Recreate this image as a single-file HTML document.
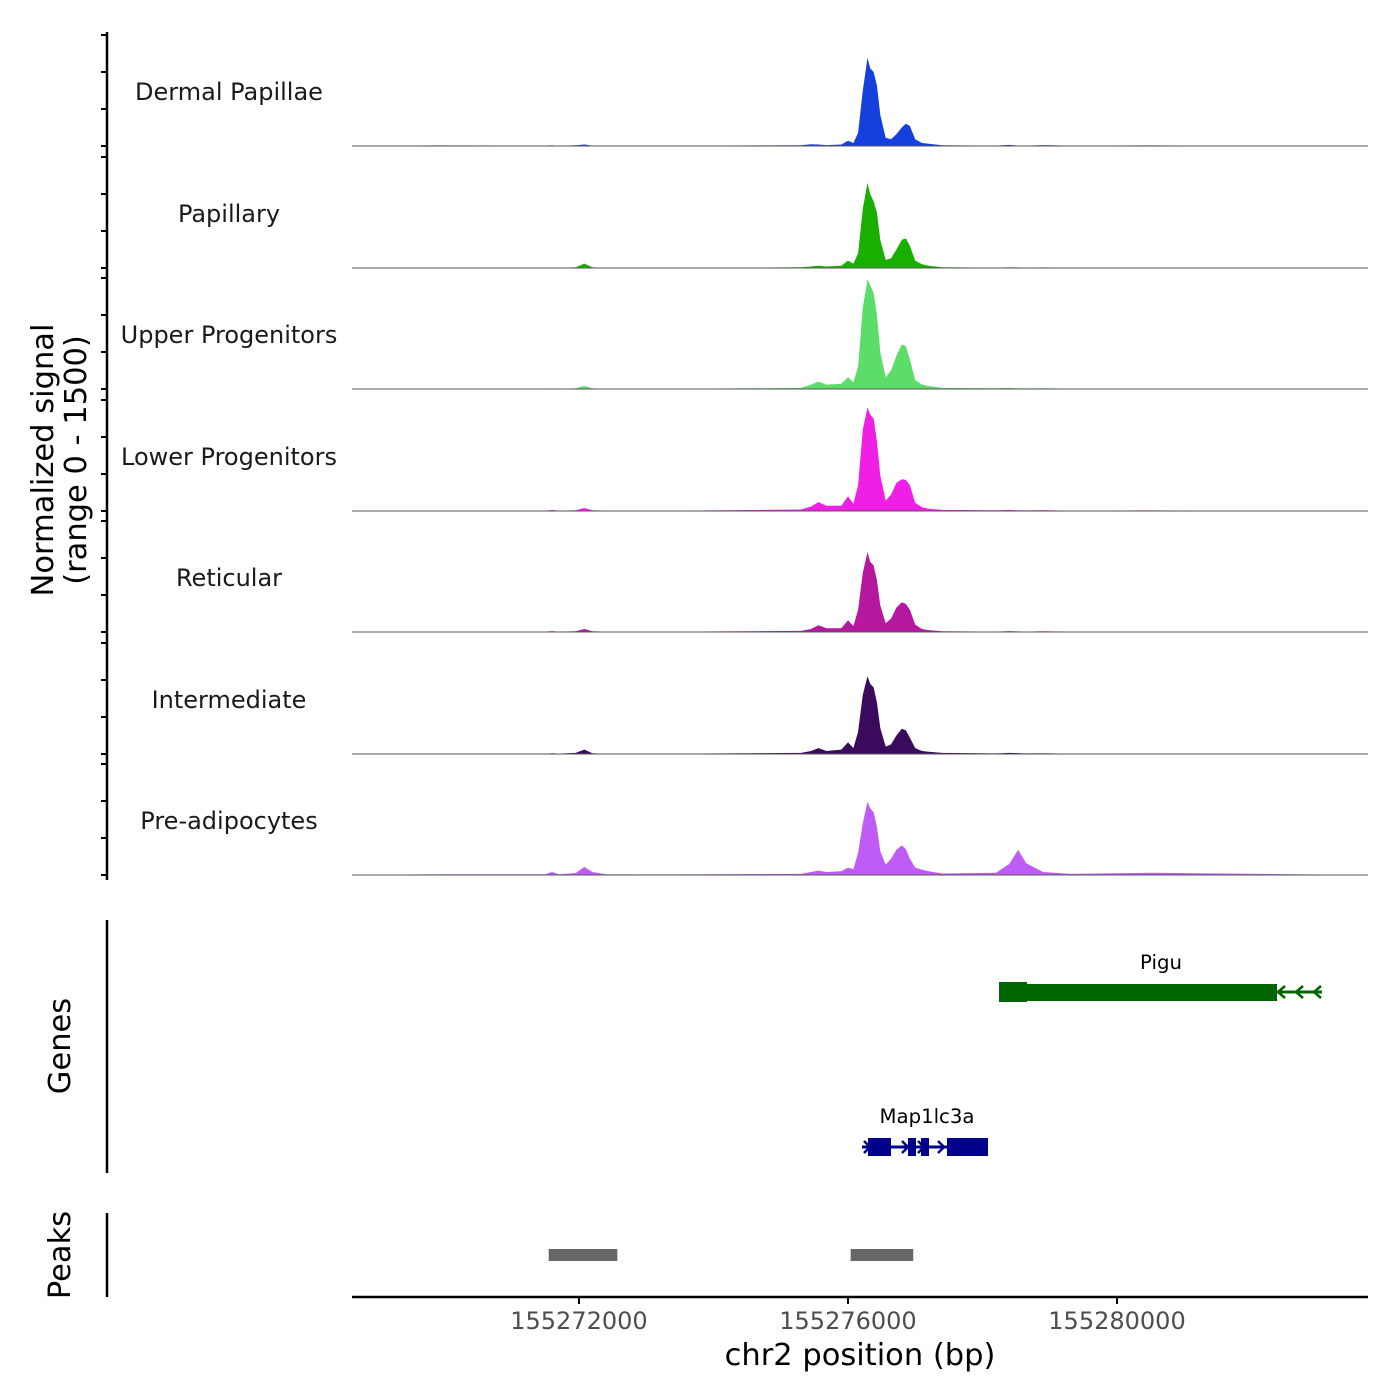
<!DOCTYPE html>
<html><head><meta charset="utf-8"><style>
body{margin:0;background:#fff}
svg{display:block;font-family:"DejaVu Sans","Liberation Sans",sans-serif}
</style></head><body>
<svg id="c" width="1400" height="1400" viewBox="0 0 1400 1400" xmlns="http://www.w3.org/2000/svg"></svg>
<script>
const positions=[155268625,155269900,155271500,155271600,155271700,155271950,155272080,155272200,155272400,155273500,155275300,155275450,155275560,155275680,155275900,155276000,155276080,155276150,155276220,155276290,155276330,155276380,155276430,155276480,155276560,155276640,155276720,155276800,155276860,155276920,155277000,155277100,155277200,155277400,155278200,155278400,155278530,155278650,155278900,155279300,155280500,155283732];
const trackNames=["Dermal Papillae","Papillary","Upper Progenitors","Lower Progenitors","Reticular","Intermediate","Pre-adipocytes"];
const trackColors=["#1640dc","#1aae00","#5cdc69","#f01fe6","#b5179e","#3a0a5c","#c05cf6"];
const dermal=[0,8,5,10,2,10,20,5,0,5,10,25,20,12,20,70,40,180,750,1190,1050,1000,820,420,110,90,160,250,300,270,90,40,30,10,5,15,5,5,12,5,8,0];
const papillary=[0,3,2,8,2,10,60,10,0,3,10,20,30,20,30,100,60,200,800,1150,1000,900,750,380,110,130,250,380,400,300,100,50,30,10,5,10,8,5,8,5,5,0];
const upperProg=[0,3,2,8,2,10,40,10,0,3,15,60,100,60,70,160,90,300,1100,1480,1400,1300,1000,500,160,250,450,600,580,400,120,60,40,15,10,15,10,8,10,5,5,0];
const lowerProg=[0,5,5,15,5,10,40,10,5,5,20,60,120,70,70,200,100,350,1100,1400,1300,1250,950,480,140,220,380,430,420,350,110,50,30,15,10,15,10,8,12,5,8,0];
const reticular=[0,5,5,12,5,10,40,10,5,5,15,40,90,50,50,160,80,300,800,1080,950,900,700,360,120,180,330,400,380,300,100,40,25,10,5,12,8,5,10,5,5,0];
const intermediate=[0,5,3,10,5,15,60,10,3,5,15,40,80,40,60,160,80,300,800,1050,950,900,700,350,100,130,250,340,320,220,80,40,30,15,8,15,12,8,10,5,5,0];
const preAdip=[0,10,10,40,10,25,110,40,10,8,15,40,60,40,50,100,80,300,700,990,900,850,650,320,140,220,340,400,350,220,100,70,50,20,30,150,340,160,40,15,30,0];
const trackValues=[dermal,papillary,upperProg,lowerProg,reticular,intermediate,preAdip];
const xTicks=[155272000,155276000,155280000];
const yTicks=[0,500,1000,1500];
const peakStarts=[155271550,155276040];
const peakEnds=[155272570,155276970];

const svg=document.getElementById('c');
const NS='http://www.w3.org/2000/svg';
function el(t,a,p){const e=document.createElementNS(NS,t);for(const k in a)e.setAttribute(k,a[k]);(p||svg).appendChild(e);return e;}
const X0=352,X1=1368,B0=155268625,B1=155283732;
const xs=b=>X0+(b-B0)/(B1-B0)*(X1-X0);
const ys=(v,base)=>base-v/1500*111;
const baselines=[146,268,389,511,632,754,875];

let ax=el('line',{x1:107,y1:32,x2:107,y2:880,stroke:'#000','stroke-width':2.5});


trackNames.forEach((name,i)=>{
  const base=baselines[i];
  const g=el('g',{});
  
  
  yTicks.forEach(t=>{
    const tk=el('line',{x1:101,x2:107,y1:ys(t,base),y2:ys(t,base),stroke:'#000','stroke-width':2},g);
    
    
  });
  const vals=trackValues[i];
  let d='M'+xs(positions[0])+','+base;
  positions.forEach((p,j)=>{d+=' L'+xs(p).toFixed(1)+','+ys(vals[j],base).toFixed(1);});
  d+=' L'+xs(positions[positions.length-1])+','+base+' Z';
  const a=el('path',{d:d,fill:trackColors[i]},g);
  
  
  const bl=el('line',{x1:X0,x2:X1,y1:base,y2:base,stroke:'#555','stroke-width':1},g);
  
  
  const tx=el('text',{x:229,y:base-46,'text-anchor':'middle','font-size':24,fill:'#1a1a1a'},g);
  tx.textContent=name;
  
  
});
const yt=el('text',{transform:'translate(53,460) rotate(-90)','text-anchor':'middle','font-size':30.5,fill:'#000'});
yt.textContent='Normalized signal';


const yt2=el('text',{transform:'translate(86,460) rotate(-90)','text-anchor':'middle','font-size':30.5,fill:'#000'});
yt2.textContent='(range 0 - 1500)';



const ga=el('line',{x1:107,y1:920,x2:107,y2:1173,stroke:'#000','stroke-width':2.5});


const gt=el('text',{transform:'translate(70,1046) rotate(-90)','text-anchor':'middle','font-size':30.5,fill:'#000'});
gt.textContent='Genes';


const pg=el('g',{});


el('line',{x1:999,x2:1322,y1:992,y2:992,stroke:'#006400','stroke-width':3},pg);
el('rect',{x:999,y:984,width:278,height:17,fill:'#006400'},pg);
el('rect',{x:999,y:982,width:28,height:20,fill:'#006400'},pg);
[1285,1303,1321].forEach(x=>el('path',{d:`M${x},986 L${x-7},992 L${x},998`,stroke:'#006400','stroke-width':2.5,fill:'none'},pg));
const pl=el('text',{x:1161,y:969,'text-anchor':'middle','font-size':19.7,fill:'#000'},pg);pl.textContent='Pigu';
const mg=el('g',{});


el('line',{x1:862,x2:988,y1:1147,y2:1147,stroke:'#00008b','stroke-width':3},mg);
[[868,891],[908,916],[921,929],[947,988]].forEach(e=>el('rect',{x:e[0],y:1138,width:e[1]-e[0],height:18,fill:'#00008b'},mg));
[864,902,918,938].forEach(x=>el('path',{d:`M${x},1141 L${x+6},1147 L${x},1153`,stroke:'#00008b','stroke-width':2.5,fill:'none'},mg));
const ml=el('text',{x:927,y:1123,'text-anchor':'middle','font-size':19.7,fill:'#000'},mg);ml.textContent='Map1lc3a';

const pa=el('line',{x1:107,y1:1213,x2:107,y2:1297,stroke:'#000','stroke-width':2.5});


const pt=el('text',{transform:'translate(70,1255) rotate(-90)','text-anchor':'middle','font-size':30.5,fill:'#000'});
pt.textContent='Peaks';


peakStarts.forEach((s,i)=>{
  const r=el('rect',{x:xs(s),y:1249,width:xs(peakEnds[i])-xs(s),height:12,fill:'#666'});
  
  
});

const xa=el('line',{x1:X0,x2:X1,y1:1297,y2:1297,stroke:'#000','stroke-width':2.5});


xTicks.forEach(t=>{
  const tk=el('line',{x1:xs(t),x2:xs(t),y1:1297,y2:1304,stroke:'#000','stroke-width':2});
  
  
  const tl=el('text',{x:xs(t),y:1329,'text-anchor':'middle','font-size':24,fill:'#4d4d4d'});
  tl.textContent=String(t);
  
  
});
const xt=el('text',{x:860,y:1365,'text-anchor':'middle','font-size':30.5,fill:'#000'});
xt.textContent='chr2 position (bp)';


</script>
</body></html>
